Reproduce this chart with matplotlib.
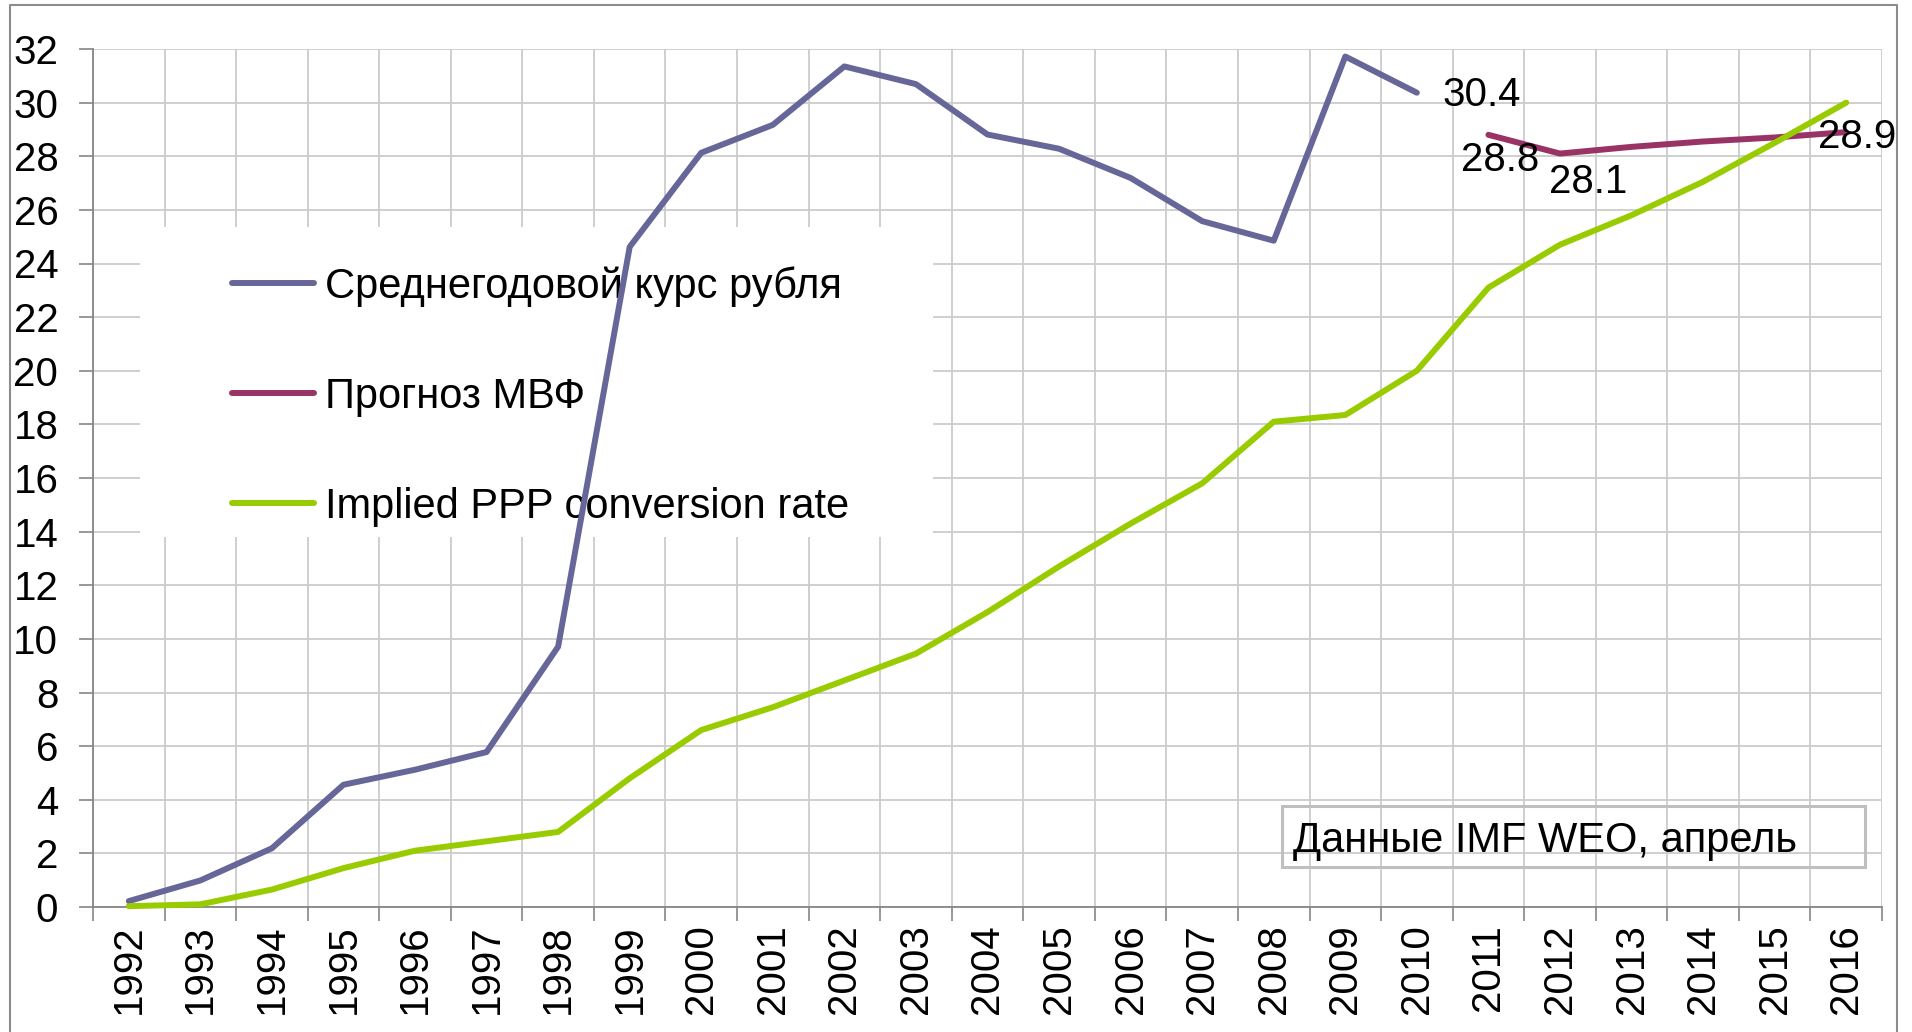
import matplotlib
matplotlib.use('Agg')
import matplotlib.pyplot as plt
import numpy as np
from matplotlib.patches import Rectangle
from matplotlib.lines import Line2D

plt.rcParams['font.family'] = ['Liberation Sans', 'DejaVu Sans']

years = [str(y) for y in range(1992, 2017)]
ruble = [0.22, 0.99, 2.19, 4.56, 5.12, 5.78, 9.71, 24.62, 28.13, 29.17, 31.35,
         30.69, 28.81, 28.28, 27.19, 25.58, 24.85, 31.72, 30.37]          # 1992-2010
imf_years = years[19:]                                                   # 2011-2016
imf = [28.8, 28.1, 28.35, 28.55, 28.7, 28.9]
ppp = [0.03, 0.1, 0.65, 1.45, 2.1, 2.45, 2.8, 4.8, 6.6, 7.45, 8.45, 9.45, 11.0,
       12.7, 14.3, 15.8, 18.1, 18.35, 20.0, 23.1, 24.7, 25.8, 27.05, 28.5, 30.0]

series_names = ['Среднегодовой курс рубля', 'Прогноз МВФ', 'Implied PPP conversion rate']
colors = ['#666699', '#993366', '#99CC00']
note = 'Данные IMF WEO, апрель'

W, H = 1912, 1032
fig = plt.figure(figsize=(W / 100, H / 100), dpi=100)
L, R, T, B = 93, 1882, 49, 907
ax = fig.add_axes([L / W, 1 - B / H, (R - L) / W, (B - T) / H])

FS = 29
FS_LEG = 30
x_r = np.arange(len(ruble))
x_i = np.arange(19, 19 + len(imf))
x_p = np.arange(len(ppp))

lw = 4.3
ax.plot(x_r, ruble, color=colors[0], lw=lw, zorder=3, solid_capstyle='round', clip_on=False)
ax.plot(x_i, imf, color=colors[1], lw=lw, zorder=3, solid_capstyle='round', clip_on=False)
ax.plot(x_p, ppp, color=colors[2], lw=lw, zorder=3, solid_capstyle='round', clip_on=False)

ax.set_xlim(-0.5, len(years) - 0.5)
ax.set_ylim(0, 32)
ax.set_yticks(np.arange(0, 33, 2))
ax.set_xticks(np.arange(len(years)))
ax.set_xticklabels(years, rotation=90)
ax.set_xticks(np.arange(-0.5, len(years), 1), minor=True)

ax.set_axisbelow(True)
gc = '#CCCCCC'
ax.grid(axis='y', which='major', color=gc, lw=1.3)
ax.grid(axis='x', which='minor', color=gc, lw=1.3)
ax.tick_params(axis='x', which='major', length=0, pad=12.5, labelsize=FS)
ax.tick_params(axis='x', which='minor', length=10, width=1.2, color='#868686')
ax.tick_params(axis='y', which='major', length=10, width=1.2, color='#868686', pad=15, labelsize=FS)
for s in ['top', 'right']:
    ax.spines[s].set_visible(False)
for s in ['left', 'bottom']:
    ax.spines[s].set_color('#868686')
    ax.spines[s].set_linewidth(1.3)

# white legend background (hides grid, under the series lines)
bg = Rectangle((140 / W, 1 - 537 / H), (933 - 140) / W, (537 - 227) / H,
               transform=fig.transFigure, facecolor='white', edgecolor='none', zorder=1)
ax.add_patch(bg)

handles = [Line2D([], [], color=c, lw=lw, solid_capstyle='round') for c in colors]
leg = ax.legend(handles, series_names, loc='upper left', frameon=False,
                bbox_to_anchor=((232 - L) / (R - L), (B - 266) / (B - T)),
                borderaxespad=0, borderpad=0, fontsize=FS_LEG, handlelength=1.96,
                handletextpad=0.28, labelspacing=1.68)
leg.set_zorder(2)

# data labels
labels = [(18, ruble[18], '30.4', 65, 2),
          (19, imf[0], '28.8', 12, 25),
          (20, imf[1], '28.1', 28, 28),
          (24, imf[5], '28.9', 11, 5)]
for xi, v, t, dx, dy in labels:
    ax.annotate(t, xy=(xi, v), xytext=(dx, -dy), textcoords='offset pixels',
                ha='center', va='center', fontsize=FS, zorder=4, annotation_clip=False)

# note box
fig.patches.append(Rectangle((1282 / W, 1 - 867 / H), (1865 - 1282) / W, (867 - 806) / H,
                             transform=fig.transFigure, facecolor='none',
                             edgecolor='#BFBFBF', lw=2.2))
fig.text(1293 / W, 1 - 841 / H, note, fontsize=FS_LEG, va='center', ha='left')

# outer chart border
fig.lines.append(Line2D([10 / W, 10 / W, 1897 / W, 1897 / W], [0, 1 - 5 / H, 1 - 5 / H, 0],
                        transform=fig.transFigure, color='#8C8C8C', lw=1.5))

fig.savefig('out.png', dpi=100)
